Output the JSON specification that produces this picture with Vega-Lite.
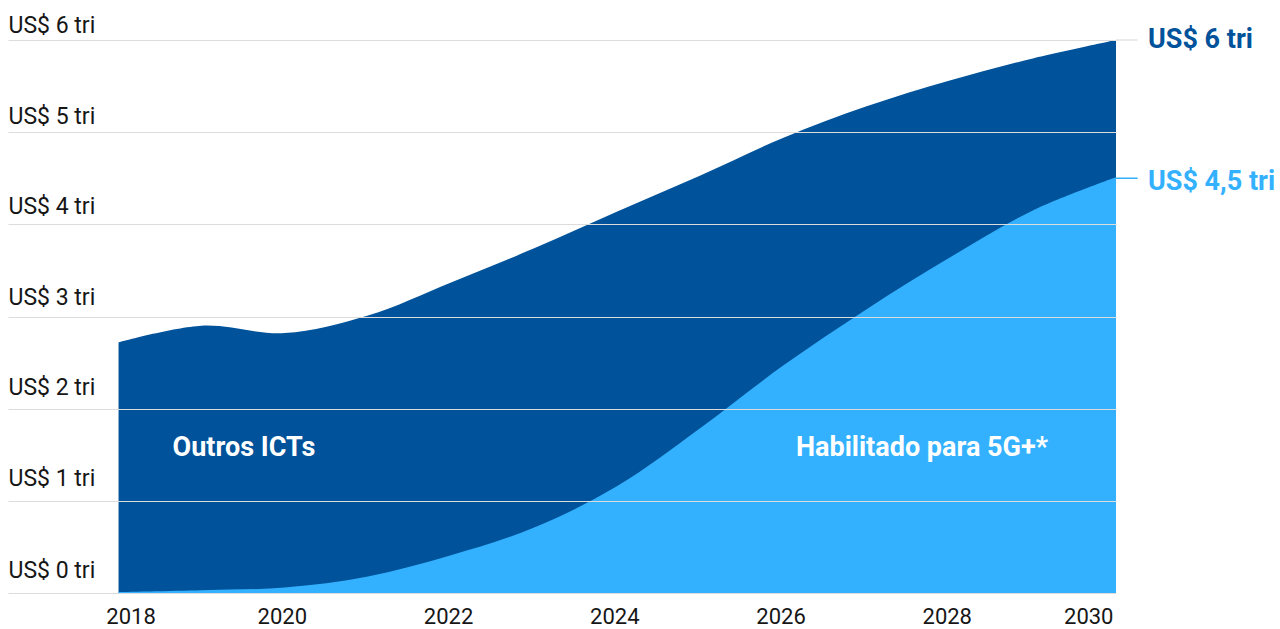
{
  "$schema": "https://vega.github.io/schema/vega-lite/v6.json",
  "width": 1108,
  "height": 553,
  "autosize": "none",
  "padding": {"left": 8, "top": 40, "right": 164, "bottom": 36},
  "background": "white",
  "config": {"view": {"stroke": null}, "font": "Roboto"},
  "datasets": {
    "series": [
      {"year": 2018, "total": 2.72, "fiveg": 0.01},
      {"year": 2019, "total": 2.9, "fiveg": 0.03},
      {"year": 2020, "total": 2.82, "fiveg": 0.06},
      {"year": 2021, "total": 3.01, "fiveg": 0.18},
      {"year": 2022, "total": 3.37, "fiveg": 0.41},
      {"year": 2023, "total": 3.74, "fiveg": 0.71},
      {"year": 2024, "total": 4.14, "fiveg": 1.16},
      {"year": 2025, "total": 4.53, "fiveg": 1.79},
      {"year": 2026, "total": 4.94, "fiveg": 2.47},
      {"year": 2027, "total": 5.28, "fiveg": 3.08},
      {"year": 2028, "total": 5.56, "fiveg": 3.64},
      {"year": 2029, "total": 5.8, "fiveg": 4.15},
      {"year": 2030, "total": 6.0, "fiveg": 4.51}
    ],
    "ends": [
      {"year": 2030, "value": 6, "label": "US$ 6 tri", "series": "Outros ICTs"},
      {"year": 2030, "value": 4.5, "label": "US$ 4,5 tri", "series": "Habilitado para 5G+*"}
    ],
    "inside": [
      {"year": 2018.65, "value": 1.57, "label": "Outros ICTs"},
      {"year": 2026.15, "value": 1.57, "label": "Habilitado para 5G+*"}
    ]
  },
  "layer": [
    {
      "data": {"name": "series"},
      "mark": {"type": "area", "interpolate": "catmull-rom", "color": "#00539a"},
      "encoding": {
        "x": {
          "field": "year",
          "type": "quantitative",
          "scale": {"domain": [2016.67, 2030], "nice": false, "zero": false},
          "axis": {
            "values": [2018, 2020, 2022, 2024, 2026, 2028, 2030],
            "format": "d",
            "title": null,
            "grid": false,
            "domain": false,
            "ticks": false,
            "tickSize": 0,
            "labelPadding": 13,
            "labelFontSize": 22,
            "labelColor": "#161616",
            "labelFont": "Roboto",
            "labelOffset": {"condition": {"test": "datum.value == 2018", "value": 12}, "value": -3}
          }
        },
        "y": {
          "field": "total",
          "type": "quantitative",
          "scale": {"domain": [0, 6], "nice": false},
          "axis": {
            "values": [0, 1, 2, 3, 4, 5, 6],
            "labelExpr": "'US$ ' + datum.value + ' tri'",
            "title": null,
            "grid": true,
            "gridColor": "#dcdcdc",
            "gridWidth": 1.2,
            "domain": false,
            "ticks": false,
            "tickSize": 0,
            "labelPadding": 0,
            "labelAlign": "left",
            "labelBaseline": "alphabetic",
            "labelOffset": {
              "condition": [
                {"test": "datum.value == 0", "value": -16},
                {"test": "datum.value == 1", "value": -15},
                {"test": "datum.value == 2", "value": -14},
                {"test": "datum.value == 3", "value": -12},
                {"test": "datum.value == 4", "value": -11},
                {"test": "datum.value == 5", "value": -9}
              ],
              "value": -8
            },
            "labelFlush": false,
            "labelFontSize": 23,
            "labelColor": "#161616",
            "labelFont": "Roboto",
            "zindex": 1
          }
        }
      }
    },
    {
      "data": {"name": "series"},
      "mark": {"type": "area", "interpolate": "catmull-rom", "color": "#33b1ff"},
      "encoding": {
        "x": {"field": "year", "type": "quantitative"},
        "y": {"field": "fiveg", "type": "quantitative"}
      }
    },
    {
      "data": {"name": "ends"},
      "transform": [{"filter": "datum.value == 6"}],
      "mark": {"type": "rule", "color": "#dcdcdc", "strokeWidth": 1.2},
      "encoding": {
        "x": {"field": "year", "type": "quantitative"},
        "x2": {"datum": 2030.26},
        "y": {"field": "value", "type": "quantitative"}
      }
    },
    {
      "data": {"name": "ends"},
      "transform": [{"filter": "datum.value != 6"}],
      "mark": {"type": "rule", "color": "#33b1ff", "strokeWidth": 1.5},
      "encoding": {
        "x": {"field": "year", "type": "quantitative"},
        "x2": {"datum": 2030.26},
        "y": {"field": "value", "type": "quantitative"}
      }
    },
    {
      "data": {"name": "ends"},
      "transform": [{"filter": "datum.value == 6"}],
      "mark": {"type": "text", "align": "left", "baseline": "middle", "dx": 32, "dy": 0, "fontSize": 27, "fontWeight": "bold", "font": "Roboto", "color": "#00539a"},
      "encoding": {
        "x": {"field": "year", "type": "quantitative"},
        "y": {"field": "value", "type": "quantitative"},
        "text": {"field": "label"}
      }
    },
    {
      "data": {"name": "ends"},
      "transform": [{"filter": "datum.value != 6"}],
      "mark": {"type": "text", "align": "left", "baseline": "middle", "dx": 32, "dy": 4, "fontSize": 27, "fontWeight": "bold", "font": "Roboto", "color": "#33b1ff"},
      "encoding": {
        "x": {"field": "year", "type": "quantitative"},
        "y": {"field": "value", "type": "quantitative"},
        "text": {"field": "label"}
      }
    },
    {
      "data": {"name": "inside"},
      "mark": {"type": "text", "align": "left", "baseline": "middle", "fontSize": 27, "fontWeight": "bold", "color": "white", "font": "Roboto"},
      "encoding": {
        "x": {"field": "year", "type": "quantitative"},
        "y": {"field": "value", "type": "quantitative"},
        "text": {"field": "label"}
      }
    }
  ]
}
